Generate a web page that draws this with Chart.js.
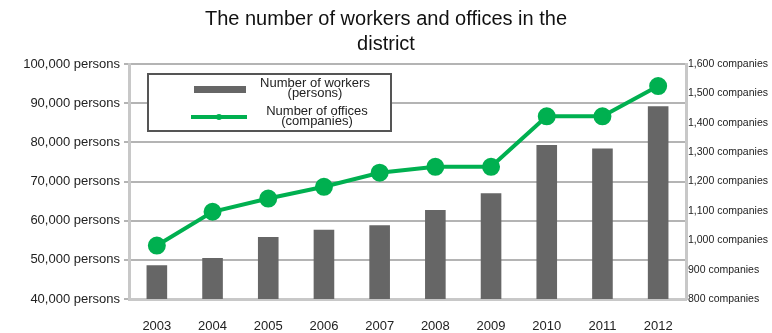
<!DOCTYPE html>
<html>
<head>
<meta charset="utf-8">
<script src="https://cdn.jsdelivr.net/npm/chart.js@4"></script>
<style>
html,body{margin:0;padding:0;background:#fff;}
#wrap{width:772px;height:333px;position:relative;}
</style>
</head>
<body>
<div id="wrap"><canvas id="c" width="772" height="333"></canvas></div>
<script>
const years = ["2003","2004","2005","2006","2007","2008","2009","2010","2011","2012"];
const workers = [48600, 50500, 55800, 57700, 58800, 62700, 67000, 79300, 78400, 89200];
const offices = [982, 1097, 1142, 1182, 1230, 1250, 1250, 1422, 1422, 1525];
const workerLabel = ["Number of workers", "(persons)"];
const officeLabel = ["Number of offices", "(companies)"];
const titleLines = ["The number of workers and offices in the", "district"];
const leftTicks = [40000, 50000, 60000, 70000, 80000, 90000, 100000];
const rightTicks = [800, 900, 1000, 1100, 1200, 1300, 1400, 1500, 1600];

const fmt = v => v.toLocaleString('en-US');
const FONT = "'Liberation Sans', Arial, sans-serif";

const legendPlugin = {
  id: 'customLegend',
  afterDraw(chart) {
    const ctx = chart.ctx;
    const a = chart.chartArea;
    const x0 = a.left + 19, y0 = a.top + 10, w = 243, h = 57;
    ctx.save();
    ctx.fillStyle = '#fff';
    ctx.fillRect(x0, y0, w, h);
    ctx.strokeStyle = '#555';
    ctx.lineWidth = 2;
    ctx.strokeRect(x0, y0, w, h);
    ctx.fillStyle = '#666666';
    ctx.fillRect(x0 + 46, y0 + 12, 52, 7);
    ctx.strokeStyle = '#00b050';
    ctx.lineWidth = 4;
    ctx.beginPath();
    ctx.moveTo(x0 + 43, y0 + 43);
    ctx.lineTo(x0 + 99, y0 + 43);
    ctx.stroke();
    ctx.fillStyle = '#00b050';
    ctx.beginPath();
    ctx.arc(x0 + 71, y0 + 43, 3, 0, Math.PI * 2);
    ctx.fill();
    ctx.fillStyle = '#222';
    ctx.font = "13px " + FONT;
    ctx.textAlign = 'center';
    ctx.textBaseline = 'middle';
    ctx.fillText(workerLabel[0], x0 + 167, y0 + 9);
    ctx.fillText(workerLabel[1], x0 + 167, y0 + 19);
    ctx.fillText(officeLabel[0], x0 + 169, y0 + 37);
    ctx.fillText(officeLabel[1], x0 + 169, y0 + 47);
    ctx.restore();
  }
};

new Chart(document.getElementById('c'), {
  data: {
    labels: years,
    datasets: [
      {
        type: 'line',
        label: officeLabel.join(' '),
        data: offices,
        yAxisID: 'y1',
        borderColor: '#00b050',
        backgroundColor: '#00b050',
        borderWidth: 4,
        pointRadius: 7,
        pointHoverRadius: 7,
        pointBackgroundColor: '#00b050',
        pointBorderColor: '#00b050',
        tension: 0,
        order: 0
      },
      {
        type: 'bar',
        label: workerLabel.join(' '),
        data: workers,
        yAxisID: 'y',
        backgroundColor: '#666666',
        barPercentage: 0.37,
        categoryPercentage: 1.0,
        order: 1
      }
    ]
  },
  options: {
    responsive: false,
    animation: false,
    layout: { padding: { top: 0, right: 0, bottom: 0, left: 0 } },
    plugins: {
      legend: { display: false },
      tooltip: { enabled: false },
      title: {
        display: true,
        text: titleLines,
        color: '#111',
        font: { family: FONT, size: 20, weight: 'normal', lineHeight: 1.25 },
        padding: { top: 7, bottom: 7 }
      }
    },
    scales: {
      x: {
        offset: true,
        grid: { display: false },
        border: { display: true, color: '#c8c8c8', width: 3 },
        ticks: { color: '#222', font: { family: FONT, size: 13 }, padding: 12, maxRotation: 0 },
        afterFit(s) { s.height = 34; }
      },
      y: {
        position: 'left',
        min: 40000, max: 100000,
        afterBuildTicks(s) { s.ticks = leftTicks.map(v => ({ value: v })); },
        grid: { color: '#b4b4b4', lineWidth: 2, tickLength: 5, drawTicks: true },
        border: { display: true, color: '#c8c8c8', width: 3 },
        ticks: { color: '#222', font: { family: FONT, size: 13 }, padding: 4, callback: v => fmt(v) + ' persons' },
        afterFit(s) { s.width = 129; }
      },
      y1: {
        position: 'right',
        min: 800, max: 1600,
        afterBuildTicks(s) { s.ticks = rightTicks.map(v => ({ value: v })); },
        grid: { drawOnChartArea: false, color: '#c8c8c8', tickLength: 2 },
        border: { display: true, color: '#c8c8c8', width: 3 },
        ticks: { color: '#222', font: { family: FONT, size: 10.5 }, padding: 0, callback: v => fmt(v) + ' companies' },
        afterFit(s) { s.width = 86; }
      }
    }
  },
  plugins: [legendPlugin]
});
</script>
</body>
</html>
